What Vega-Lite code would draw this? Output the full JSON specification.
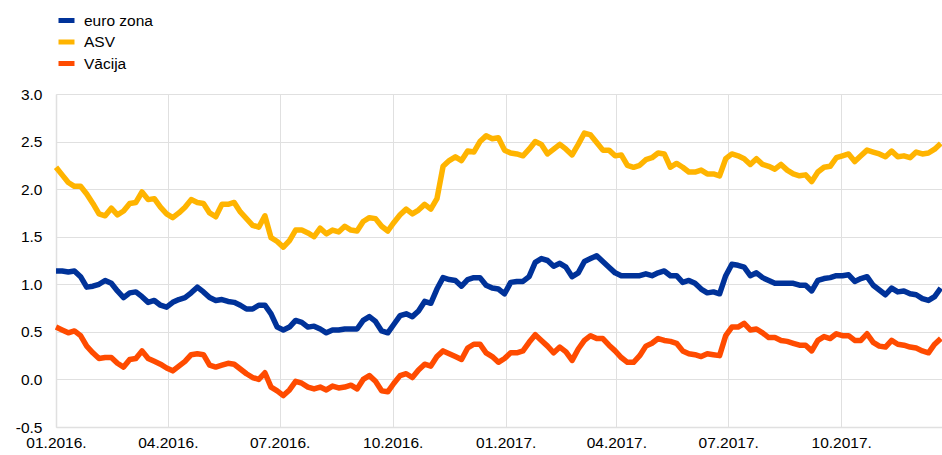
{
  "$schema": "https://vega.github.io/schema/vega-lite/v6.json",
  "width": 886,
  "height": 333,
  "autosize": {"type": "none"},
  "padding": {"left": 56, "top": 94, "right": 0, "bottom": 28},
  "background": "white",
  "config": {
    "view": {"stroke": null},
    "font": "Liberation Sans"
  },
  "data": {
    "values": [
      {"d":"2016-01-01","euro zona":1.14,"ASV":2.23,"Vācija":0.55},
      {"d":"2016-01-06","euro zona":1.14,"ASV":2.15,"Vācija":0.52},
      {"d":"2016-01-11","euro zona":1.13,"ASV":2.07,"Vācija":0.49},
      {"d":"2016-01-16","euro zona":1.14,"ASV":2.03,"Vācija":0.51},
      {"d":"2016-01-21","euro zona":1.08,"ASV":2.03,"Vācija":0.46},
      {"d":"2016-01-26","euro zona":0.97,"ASV":1.95,"Vācija":0.35},
      {"d":"2016-01-31","euro zona":0.98,"ASV":1.85,"Vācija":0.28},
      {"d":"2016-02-05","euro zona":1.00,"ASV":1.74,"Vācija":0.22},
      {"d":"2016-02-10","euro zona":1.04,"ASV":1.72,"Vācija":0.23},
      {"d":"2016-02-15","euro zona":1.01,"ASV":1.80,"Vācija":0.23},
      {"d":"2016-02-20","euro zona":0.93,"ASV":1.73,"Vācija":0.17},
      {"d":"2016-02-25","euro zona":0.86,"ASV":1.77,"Vācija":0.13},
      {"d":"2016-03-01","euro zona":0.91,"ASV":1.85,"Vācija":0.21},
      {"d":"2016-03-06","euro zona":0.92,"ASV":1.86,"Vācija":0.22},
      {"d":"2016-03-11","euro zona":0.87,"ASV":1.97,"Vācija":0.30},
      {"d":"2016-03-16","euro zona":0.81,"ASV":1.89,"Vācija":0.22},
      {"d":"2016-03-21","euro zona":0.83,"ASV":1.90,"Vācija":0.19},
      {"d":"2016-03-26","euro zona":0.78,"ASV":1.81,"Vācija":0.16},
      {"d":"2016-03-31","euro zona":0.76,"ASV":1.74,"Vācija":0.12},
      {"d":"2016-04-05","euro zona":0.81,"ASV":1.70,"Vācija":0.09},
      {"d":"2016-04-10","euro zona":0.84,"ASV":1.75,"Vācija":0.14},
      {"d":"2016-04-15","euro zona":0.86,"ASV":1.81,"Vācija":0.19},
      {"d":"2016-04-20","euro zona":0.91,"ASV":1.89,"Vācija":0.26},
      {"d":"2016-04-25","euro zona":0.97,"ASV":1.86,"Vācija":0.27},
      {"d":"2016-04-30","euro zona":0.92,"ASV":1.85,"Vācija":0.26},
      {"d":"2016-05-05","euro zona":0.86,"ASV":1.75,"Vācija":0.15},
      {"d":"2016-05-10","euro zona":0.83,"ASV":1.71,"Vācija":0.13},
      {"d":"2016-05-15","euro zona":0.84,"ASV":1.84,"Vācija":0.15},
      {"d":"2016-05-20","euro zona":0.82,"ASV":1.84,"Vācija":0.17},
      {"d":"2016-05-25","euro zona":0.81,"ASV":1.86,"Vācija":0.16},
      {"d":"2016-05-30","euro zona":0.78,"ASV":1.76,"Vācija":0.11},
      {"d":"2016-06-04","euro zona":0.74,"ASV":1.69,"Vācija":0.06},
      {"d":"2016-06-09","euro zona":0.74,"ASV":1.62,"Vācija":0.02},
      {"d":"2016-06-14","euro zona":0.78,"ASV":1.60,"Vācija":0.00},
      {"d":"2016-06-19","euro zona":0.78,"ASV":1.72,"Vācija":0.07},
      {"d":"2016-06-24","euro zona":0.69,"ASV":1.49,"Vācija":-0.08},
      {"d":"2016-06-29","euro zona":0.55,"ASV":1.45,"Vācija":-0.12},
      {"d":"2016-07-04","euro zona":0.52,"ASV":1.39,"Vācija":-0.17},
      {"d":"2016-07-09","euro zona":0.55,"ASV":1.46,"Vācija":-0.11},
      {"d":"2016-07-14","euro zona":0.62,"ASV":1.57,"Vācija":-0.02},
      {"d":"2016-07-19","euro zona":0.60,"ASV":1.57,"Vācija":-0.04},
      {"d":"2016-07-24","euro zona":0.55,"ASV":1.54,"Vācija":-0.08},
      {"d":"2016-07-29","euro zona":0.56,"ASV":1.50,"Vācija":-0.10},
      {"d":"2016-08-03","euro zona":0.53,"ASV":1.59,"Vācija":-0.08},
      {"d":"2016-08-08","euro zona":0.49,"ASV":1.53,"Vācija":-0.11},
      {"d":"2016-08-13","euro zona":0.52,"ASV":1.57,"Vācija":-0.07},
      {"d":"2016-08-18","euro zona":0.52,"ASV":1.55,"Vācija":-0.09},
      {"d":"2016-08-23","euro zona":0.53,"ASV":1.61,"Vācija":-0.08},
      {"d":"2016-08-28","euro zona":0.53,"ASV":1.57,"Vācija":-0.06},
      {"d":"2016-09-02","euro zona":0.53,"ASV":1.56,"Vācija":-0.10},
      {"d":"2016-09-07","euro zona":0.62,"ASV":1.66,"Vācija":0.00},
      {"d":"2016-09-12","euro zona":0.66,"ASV":1.70,"Vācija":0.04},
      {"d":"2016-09-17","euro zona":0.61,"ASV":1.69,"Vācija":-0.02},
      {"d":"2016-09-22","euro zona":0.51,"ASV":1.61,"Vācija":-0.12},
      {"d":"2016-09-27","euro zona":0.49,"ASV":1.56,"Vācija":-0.13},
      {"d":"2016-10-02","euro zona":0.58,"ASV":1.65,"Vācija":-0.04},
      {"d":"2016-10-07","euro zona":0.67,"ASV":1.73,"Vācija":0.04},
      {"d":"2016-10-12","euro zona":0.69,"ASV":1.79,"Vācija":0.06},
      {"d":"2016-10-17","euro zona":0.66,"ASV":1.74,"Vācija":0.02},
      {"d":"2016-10-22","euro zona":0.72,"ASV":1.78,"Vācija":0.10},
      {"d":"2016-10-27","euro zona":0.82,"ASV":1.84,"Vācija":0.16},
      {"d":"2016-11-01","euro zona":0.80,"ASV":1.79,"Vācija":0.14},
      {"d":"2016-11-06","euro zona":0.95,"ASV":1.90,"Vācija":0.24},
      {"d":"2016-11-11","euro zona":1.07,"ASV":2.24,"Vācija":0.30},
      {"d":"2016-11-16","euro zona":1.05,"ASV":2.30,"Vācija":0.27},
      {"d":"2016-11-21","euro zona":1.04,"ASV":2.34,"Vācija":0.24},
      {"d":"2016-11-26","euro zona":0.98,"ASV":2.30,"Vācija":0.21},
      {"d":"2016-12-01","euro zona":1.05,"ASV":2.40,"Vācija":0.33},
      {"d":"2016-12-06","euro zona":1.07,"ASV":2.39,"Vācija":0.37},
      {"d":"2016-12-11","euro zona":1.07,"ASV":2.50,"Vācija":0.37},
      {"d":"2016-12-16","euro zona":0.99,"ASV":2.56,"Vācija":0.28},
      {"d":"2016-12-21","euro zona":0.96,"ASV":2.53,"Vācija":0.24},
      {"d":"2016-12-26","euro zona":0.95,"ASV":2.54,"Vācija":0.18},
      {"d":"2016-12-31","euro zona":0.90,"ASV":2.41,"Vācija":0.22},
      {"d":"2017-01-05","euro zona":1.02,"ASV":2.38,"Vācija":0.28},
      {"d":"2017-01-10","euro zona":1.03,"ASV":2.37,"Vācija":0.28},
      {"d":"2017-01-15","euro zona":1.03,"ASV":2.35,"Vācija":0.30},
      {"d":"2017-01-20","euro zona":1.08,"ASV":2.42,"Vācija":0.39},
      {"d":"2017-01-25","euro zona":1.23,"ASV":2.50,"Vācija":0.47},
      {"d":"2017-01-30","euro zona":1.27,"ASV":2.47,"Vācija":0.41},
      {"d":"2017-02-04","euro zona":1.25,"ASV":2.37,"Vācija":0.35},
      {"d":"2017-02-09","euro zona":1.19,"ASV":2.42,"Vācija":0.28},
      {"d":"2017-02-14","euro zona":1.22,"ASV":2.47,"Vācija":0.34},
      {"d":"2017-02-19","euro zona":1.18,"ASV":2.42,"Vācija":0.29},
      {"d":"2017-02-24","euro zona":1.08,"ASV":2.36,"Vācija":0.20},
      {"d":"2017-03-01","euro zona":1.12,"ASV":2.47,"Vācija":0.32},
      {"d":"2017-03-06","euro zona":1.24,"ASV":2.59,"Vācija":0.41},
      {"d":"2017-03-11","euro zona":1.27,"ASV":2.57,"Vācija":0.46},
      {"d":"2017-03-16","euro zona":1.30,"ASV":2.49,"Vācija":0.43},
      {"d":"2017-03-21","euro zona":1.24,"ASV":2.41,"Vācija":0.43},
      {"d":"2017-03-26","euro zona":1.18,"ASV":2.41,"Vācija":0.36},
      {"d":"2017-03-31","euro zona":1.12,"ASV":2.35,"Vācija":0.30},
      {"d":"2017-04-05","euro zona":1.09,"ASV":2.36,"Vācija":0.23},
      {"d":"2017-04-10","euro zona":1.09,"ASV":2.25,"Vācija":0.18},
      {"d":"2017-04-15","euro zona":1.09,"ASV":2.23,"Vācija":0.18},
      {"d":"2017-04-20","euro zona":1.09,"ASV":2.25,"Vācija":0.25},
      {"d":"2017-04-25","euro zona":1.11,"ASV":2.31,"Vācija":0.35},
      {"d":"2017-04-30","euro zona":1.09,"ASV":2.33,"Vācija":0.38},
      {"d":"2017-05-05","euro zona":1.12,"ASV":2.38,"Vācija":0.43},
      {"d":"2017-05-10","euro zona":1.14,"ASV":2.37,"Vācija":0.41},
      {"d":"2017-05-15","euro zona":1.09,"ASV":2.23,"Vācija":0.40},
      {"d":"2017-05-20","euro zona":1.09,"ASV":2.27,"Vācija":0.38},
      {"d":"2017-05-25","euro zona":1.02,"ASV":2.23,"Vācija":0.30},
      {"d":"2017-05-30","euro zona":1.04,"ASV":2.18,"Vācija":0.27},
      {"d":"2017-06-04","euro zona":1.01,"ASV":2.18,"Vācija":0.26},
      {"d":"2017-06-09","euro zona":0.95,"ASV":2.20,"Vācija":0.24},
      {"d":"2017-06-14","euro zona":0.91,"ASV":2.16,"Vācija":0.27},
      {"d":"2017-06-19","euro zona":0.92,"ASV":2.16,"Vācija":0.26},
      {"d":"2017-06-24","euro zona":0.90,"ASV":2.14,"Vācija":0.25},
      {"d":"2017-06-29","euro zona":1.09,"ASV":2.32,"Vācija":0.46},
      {"d":"2017-07-04","euro zona":1.21,"ASV":2.37,"Vācija":0.55},
      {"d":"2017-07-09","euro zona":1.20,"ASV":2.35,"Vācija":0.55},
      {"d":"2017-07-14","euro zona":1.18,"ASV":2.32,"Vācija":0.59},
      {"d":"2017-07-19","euro zona":1.09,"ASV":2.26,"Vācija":0.52},
      {"d":"2017-07-24","euro zona":1.12,"ASV":2.32,"Vācija":0.53},
      {"d":"2017-07-29","euro zona":1.07,"ASV":2.26,"Vācija":0.49},
      {"d":"2017-08-03","euro zona":1.04,"ASV":2.24,"Vācija":0.44},
      {"d":"2017-08-08","euro zona":1.01,"ASV":2.21,"Vācija":0.44},
      {"d":"2017-08-13","euro zona":1.01,"ASV":2.26,"Vācija":0.41},
      {"d":"2017-08-18","euro zona":1.01,"ASV":2.20,"Vācija":0.40},
      {"d":"2017-08-23","euro zona":1.01,"ASV":2.16,"Vācija":0.38},
      {"d":"2017-08-28","euro zona":0.99,"ASV":2.14,"Vācija":0.36},
      {"d":"2017-09-02","euro zona":0.99,"ASV":2.15,"Vācija":0.36},
      {"d":"2017-09-07","euro zona":0.93,"ASV":2.08,"Vācija":0.30},
      {"d":"2017-09-12","euro zona":1.04,"ASV":2.18,"Vācija":0.41},
      {"d":"2017-09-17","euro zona":1.06,"ASV":2.23,"Vācija":0.45},
      {"d":"2017-09-22","euro zona":1.07,"ASV":2.24,"Vācija":0.43},
      {"d":"2017-09-27","euro zona":1.09,"ASV":2.33,"Vācija":0.48},
      {"d":"2017-10-02","euro zona":1.09,"ASV":2.35,"Vācija":0.46},
      {"d":"2017-10-07","euro zona":1.10,"ASV":2.37,"Vācija":0.46},
      {"d":"2017-10-12","euro zona":1.03,"ASV":2.29,"Vācija":0.41},
      {"d":"2017-10-17","euro zona":1.06,"ASV":2.35,"Vācija":0.41},
      {"d":"2017-10-22","euro zona":1.08,"ASV":2.41,"Vācija":0.48},
      {"d":"2017-10-27","euro zona":0.99,"ASV":2.39,"Vācija":0.39},
      {"d":"2017-11-01","euro zona":0.94,"ASV":2.37,"Vācija":0.35},
      {"d":"2017-11-06","euro zona":0.89,"ASV":2.34,"Vācija":0.34},
      {"d":"2017-11-11","euro zona":0.96,"ASV":2.40,"Vācija":0.41},
      {"d":"2017-11-16","euro zona":0.92,"ASV":2.34,"Vācija":0.37},
      {"d":"2017-11-21","euro zona":0.93,"ASV":2.35,"Vācija":0.36},
      {"d":"2017-11-26","euro zona":0.90,"ASV":2.33,"Vācija":0.34},
      {"d":"2017-12-01","euro zona":0.89,"ASV":2.39,"Vācija":0.33},
      {"d":"2017-12-06","euro zona":0.85,"ASV":2.37,"Vācija":0.30},
      {"d":"2017-12-11","euro zona":0.83,"ASV":2.38,"Vācija":0.28},
      {"d":"2017-12-16","euro zona":0.87,"ASV":2.42,"Vācija":0.37},
      {"d":"2017-12-21","euro zona":0.96,"ASV":2.48,"Vācija":0.43}
    ]
  },
  "transform": [{"fold": ["euro zona", "ASV", "Vācija"], "as": ["s", "v"]}],
  "mark": {"type": "line", "strokeWidth": 5.5, "strokeJoin": "round"},
  "encoding": {
    "x": {
      "field": "d",
      "type": "temporal",
      "scale": {
        "type": "utc",
        "nice": false,
        "domain": [
          {"year": 2016, "month": 1, "date": 1, "utc": true},
          {"year": 2017, "month": 12, "date": 22, "utc": true}
        ]
      },
      "axis": {
        "title": null,
        "labelExpr": "utcFormat(datum.value, '%m.%Y.')",
        "tickCount": {"interval": "month", "step": 3},
        "ticks": false,
        "labelPadding": 8,
        "labelFlush": false,
        "labelOverlap": false,
        "grid": true,
        "gridColor": "#e0e0e0",
        "gridWidth": 1,
        "domainColor": "#e0e0e0",
        "domainWidth": 1.5,
        "labelFont": "Liberation Sans",
        "labelFontSize": 15.5,
        "labelColor": "#000000"
      }
    },
    "y": {
      "field": "v",
      "type": "quantitative",
      "scale": {"domain": [-0.5, 3.0], "nice": false, "zero": false},
      "axis": {
        "title": null,
        "values": [-0.5, 0, 0.5, 1, 1.5, 2, 2.5, 3],
        "labelExpr": "replace(format(datum.value, '.1f'), '\u2212', '-')",
        "ticks": false,
        "labelPadding": 14,
        "grid": true,
        "gridColor": "#e0e0e0",
        "gridWidth": 1,
        "domainColor": "#e0e0e0",
        "domainWidth": 1.5,
        "labelFont": "Liberation Sans",
        "labelFontSize": 15.5,
        "labelColor": "#000000"
      }
    },
    "color": {
      "field": "s",
      "type": "nominal",
      "scale": {
        "domain": ["euro zona", "ASV", "Vācija"],
        "range": ["#003299", "#FFB400", "#FF4B00"]
      },
      "legend": {
        "title": null,
        "orient": "none",
        "legendX": 0,
        "legendY": -84,
        "padding": 0,
        "symbolType": "stroke",
        "symbolSize": 256,
        "symbolStrokeWidth": 5,
        "labelOffset": 7,
        "rowPadding": 0.5,
        "labelFont": "Liberation Sans",
        "labelFontSize": 15.5,
        "labelColor": "#000000"
      }
    }
  }
}
